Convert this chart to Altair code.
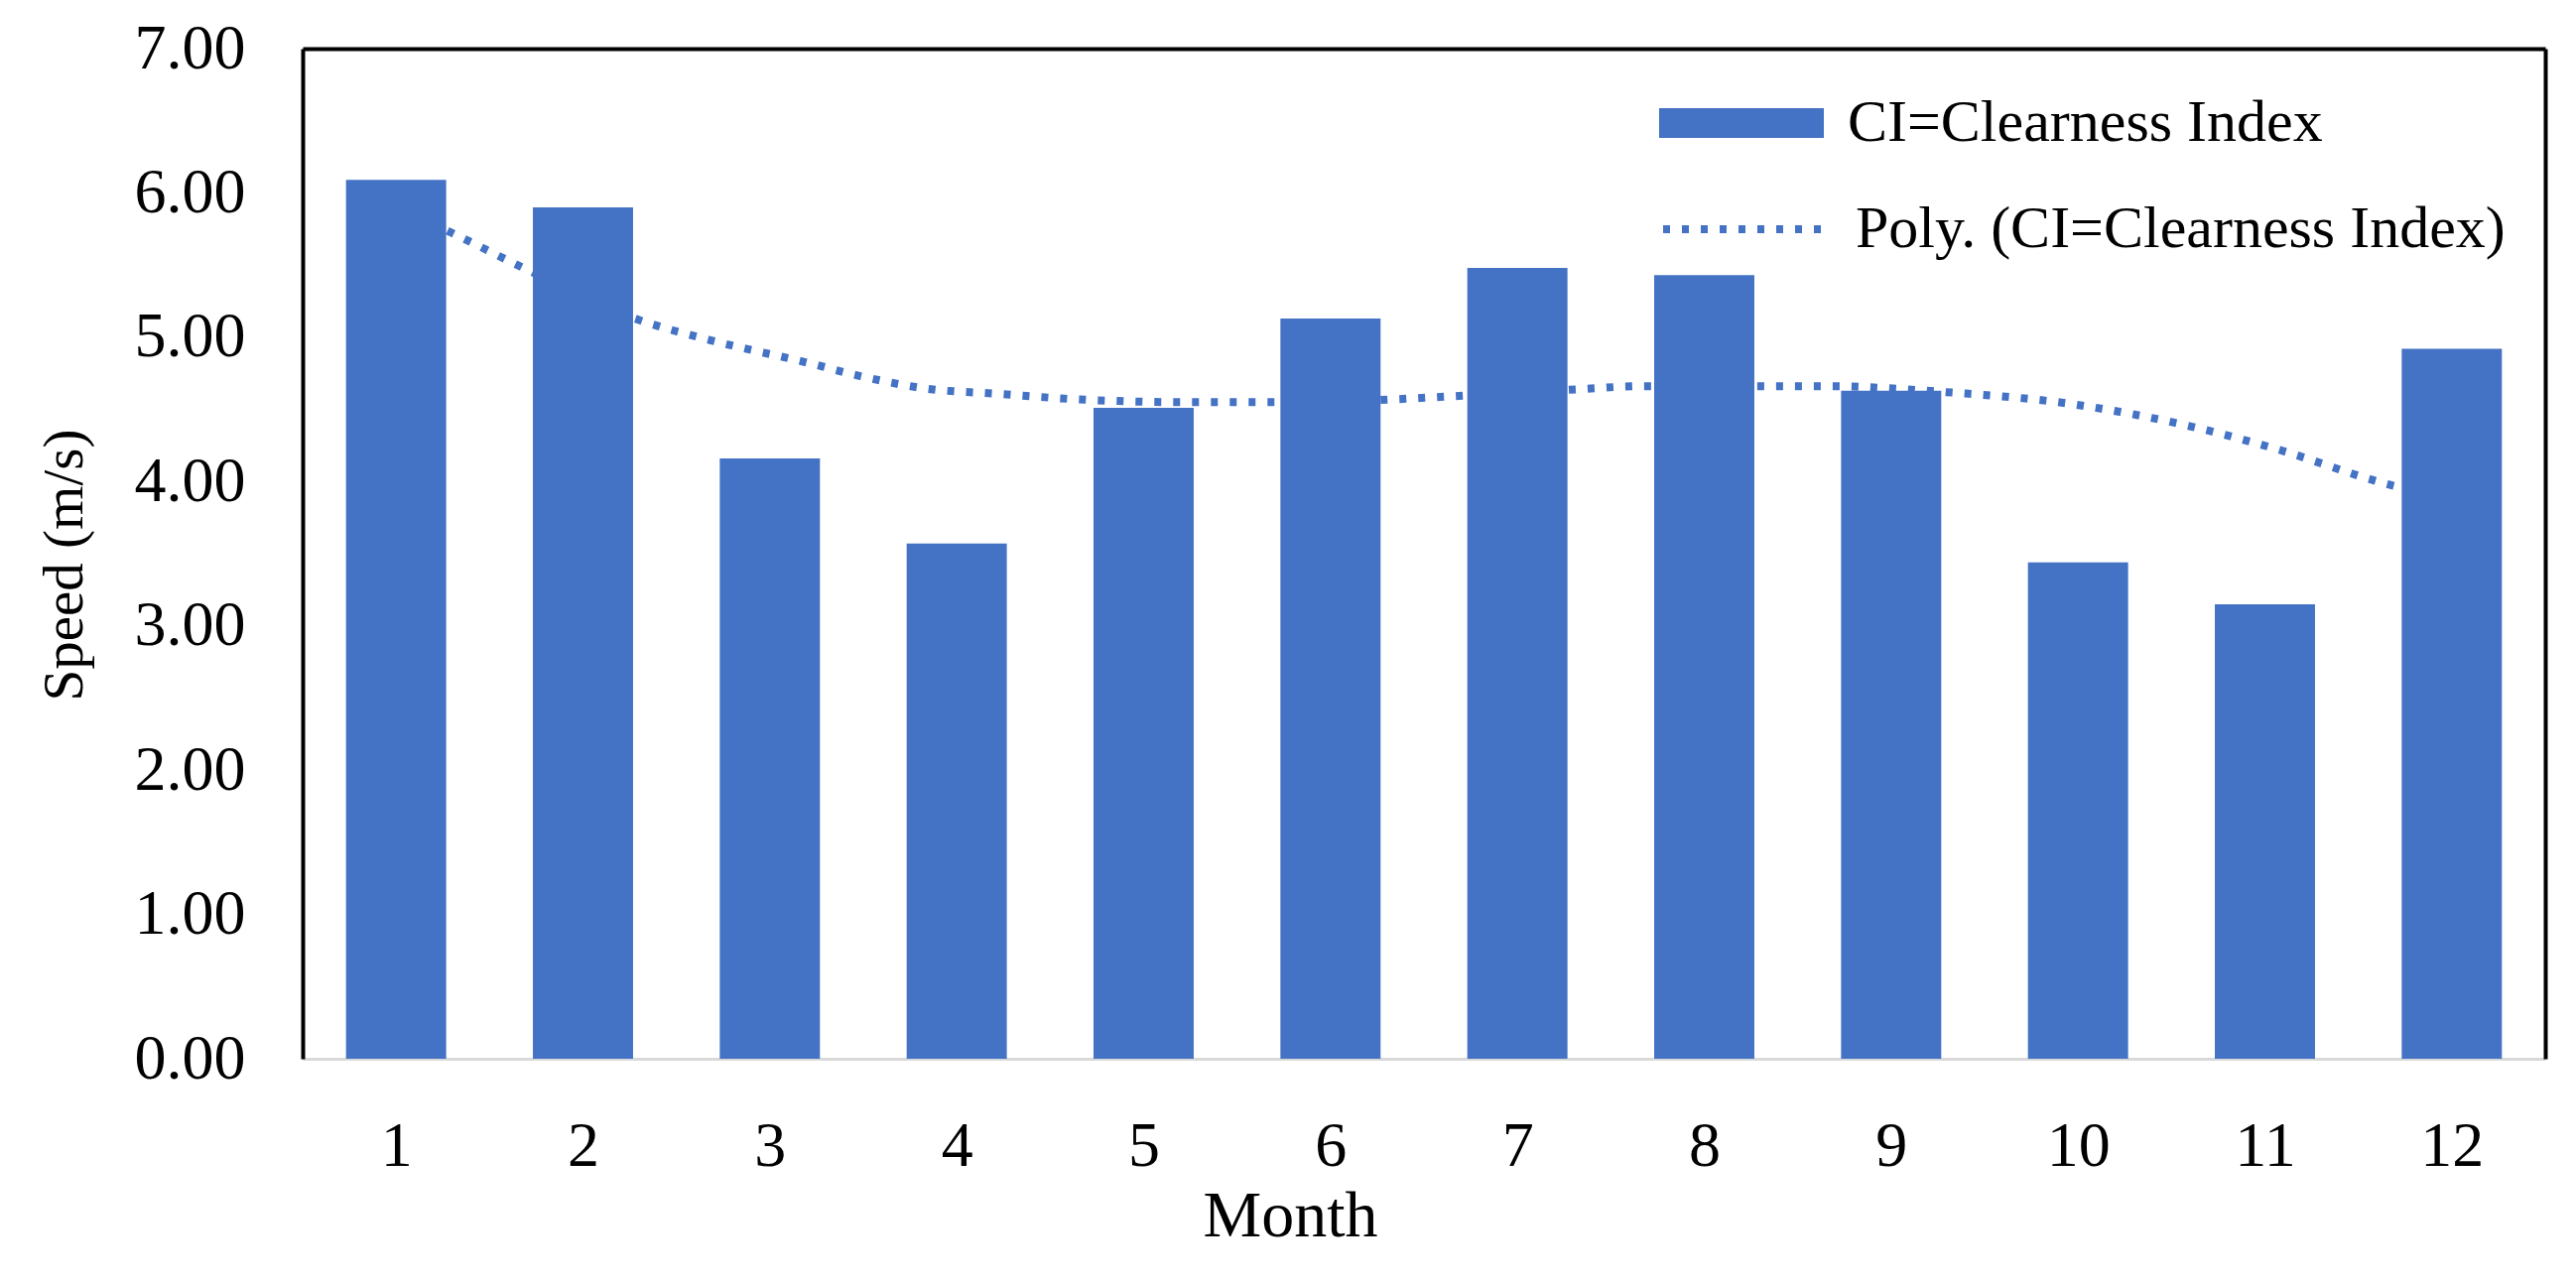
import altair as alt
import pandas as pd

months = [1, 2, 3, 4, 5, 6, 7, 8, 9, 10, 11, 12]
speeds = [6.09, 5.90, 4.16, 3.57, 4.51, 5.13, 5.48, 5.43, 4.63, 3.44, 3.15, 4.92]
# polynomial trend line
trend_x = [1.0, 1.27, 1.73, 2.30, 2.68, 3.18, 3.52, 3.86, 4.20, 4.64, 5.22, 5.69,
           6.34, 6.64, 7.33, 7.65, 8.36, 8.67, 9.29, 9.95, 10.61, 11.05, 11.66, 12.0]
trend_y = [5.90, 5.74, 5.45, 5.12, 4.98, 4.83, 4.72, 4.64, 4.61, 4.57, 4.55, 4.55,
           4.57, 4.59, 4.64, 4.66, 4.66, 4.66, 4.62, 4.54, 4.38, 4.23, 3.98, 3.88]
bar_series = "CI=Clearness Index"
trend_series = "Poly. (CI=Clearness Index)"
y_ticks = [0, 1, 2, 3, 4, 5, 6, 7]

df = pd.DataFrame({"month": months, "speed": speeds})
tdf = pd.DataFrame({"month": trend_x, "speed": trend_y})

FONT = "Liberation Serif"
BLUE = "#4472C4"
W, H = 2260, 1018

xscale = alt.Scale(domain=[0.5, 12.5], nice=False, zero=False)
yscale = alt.Scale(domain=[0, 7], nice=False, zero=True)

trend = alt.Chart(tdf).transform_calculate(
    trend=f"'{trend_series}'"
).mark_line(color=BLUE, strokeWidth=8, strokeCap="butt", interpolate="monotone").encode(
    x=alt.X("month:Q", scale=xscale,
            axis=alt.Axis(orient="bottom", values=months, format="d", ticks=False,
                          grid=False, domainColor="#D9D9D9", domainWidth=3,
                          labelFont=FONT, labelFontSize=64, labelColor="black",
                          labelPadding=56, labelFlush=False, labelOverlap=False,
                          title="Month", titleFont=FONT, titleFontSize=66,
                          titleFontWeight="normal", titleColor="black",
                          titleX=995, titleY=178, titleBaseline="alphabetic",
                          titleAlign="center")),
    y=alt.Y("speed:Q", scale=yscale,
            axis=alt.Axis(orient="left", values=y_ticks, format=".2f", ticks=False,
                          grid=False, domainColor="black", domainWidth=4,
                          labelFont=FONT, labelFontSize=64, labelColor="black",
                          labelPadding=58, labelFlush=False, labelOverlap=False,
                          title="Speed (m/s)", titleFont=FONT, titleFontSize=57,
                          titleFontWeight="normal", titleColor="black",
                          titleX=-240, titleY=520, titleAngle=270,
                          titleBaseline="middle", titleAlign="center")),
    strokeDash=alt.StrokeDash("trend:N",
                              scale=alt.Scale(domain=[trend_series], range=[[7, 12]]),
                              legend=alt.Legend(orient="none", legendX=1367, legendY=95,
                                                title=None, symbolType="stroke",
                                                symbolSize=166 * 166,
                                                symbolStrokeColor=BLUE,
                                                symbolStrokeWidth=8,
                                                labelFont=FONT, labelFontSize=60,
                                                labelColor="black", labelOffset=24,
                                                labelLimit=1000, padding=0)),
)

bars = alt.Chart(df).transform_calculate(
    x0="datum.month - 0.268", x1="datum.month + 0.268",
    base0="0", series=f"'{bar_series}'"
).mark_bar().encode(
    x=alt.X("x0:Q", scale=xscale,
            axis=alt.Axis(orient="top", labels=False, ticks=False, grid=False,
                          domainColor="black", domainWidth=4, title=None)),
    x2="x1:Q",
    y=alt.Y("speed:Q", scale=yscale,
            axis=alt.Axis(orient="right", labels=False, ticks=False, grid=False,
                          domainColor="black", domainWidth=4, title=None)),
    y2="base0:Q",
    color=alt.Color("series:N",
                    scale=alt.Scale(domain=[bar_series], range=[BLUE]),
                    legend=alt.Legend(orient="none", legendX=1367, legendY=-8,
                                      title=None,
                                      symbolType="M-1,-0.18H1V0.18H-1Z",
                                      symbolSize=166 * 166,
                                      symbolStrokeWidth=0,
                                      symbolOpacity=1,
                                      labelFont=FONT, labelFontSize=60,
                                      labelColor="black", labelOffset=24,
                                      labelLimit=1000, padding=0)),
)

chart = alt.layer(trend, bars).resolve_axis(
    x="independent", y="independent"
).resolve_legend(
    color="independent", strokeDash="independent"
).properties(
    width=W, height=H,
    autosize=alt.AutoSizeParams(type="none"),
    padding={"left": 297, "top": 41, "right": 23, "bottom": 200},
    background="white",
).configure_view(strokeWidth=0)

chart.save("out.html", embed_options={"renderer": "svg", "actions": False})
